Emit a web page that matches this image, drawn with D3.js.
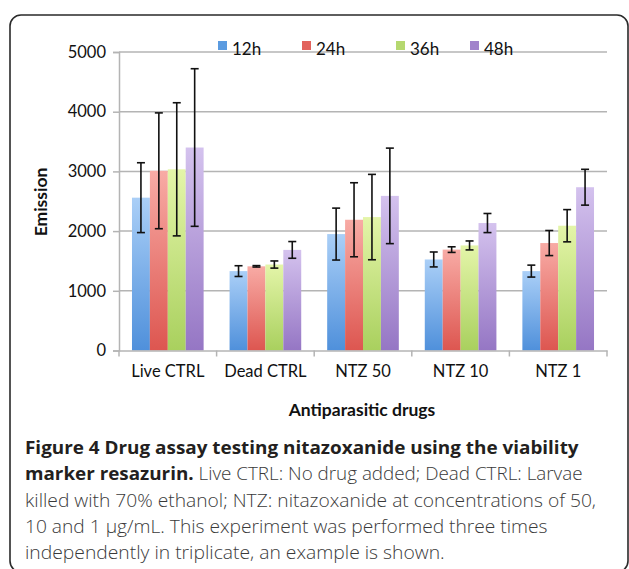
<!DOCTYPE html>
<html><head><meta charset="utf-8">
<script src="https://cdn.jsdelivr.net/npm/d3@7"></script>
<style>
html,body{margin:0;padding:0;background:#fff;}
svg{display:block;}
</style></head>
<body>
<svg id="chart" width="629" height="569"></svg>
<script>
const categories = ["Live CTRL", "Dead CTRL", "NTZ 50", "NTZ 10", "NTZ 1"];
const seriesNames = ["12h", "24h", "36h", "48h"];
const values12 = [2560, 1330, 1950, 1525, 1330];
const values24 = [3010, 1410, 2190, 1690, 1800];
const values36 = [3035, 1440, 2235, 1760, 2090];
const values48 = [3400, 1685, 2590, 2135, 2735];
const err12 = [585, 90, 435, 125, 100];
const err24 = [970, 12, 620, 47, 210];
const err36 = [1115, 60, 715, 75, 270];
const err48 = [1320, 140, 800, 160, 300];
const yTicks = [0, 1000, 2000, 3000, 4000, 5000];

const seriesValues = [values12, values24, values36, values48];
const seriesErrors = [err12, err24, err36, err48];
const colorsTop = ["#aacff7", "#f8aba5", "#e4f5a9", "#d4c2ee"];
const colorsBottom = ["#4f90db", "#dd5650", "#a9d05e", "#9576c4"];
const legendColors = ["#5b9be0", "#e2635d", "#b5d86f", "#a183cb"];

const svg = d3.select("#chart");
const chartFont = "Lato, 'Open Sans', sans-serif";
const capFont = "'Open Sans', 'Noto Sans', sans-serif";

// frame
svg.append("rect").attr("x", 10).attr("y", 15).attr("width", 618).attr("height", 557)
  .attr("rx", 11).attr("fill", "none").attr("stroke", "#2a2a2a").attr("stroke-width", 1.6);

const x = d3.scaleBand().domain(categories).range([119, 607]).padding(0);
const bw = x.bandwidth();
const x1 = d3.scaleBand().domain(seriesNames).range([bw * 0.133, bw * 0.867]).padding(0);
const y = d3.scaleLinear().domain([0, 5000]).range([350.5, 52]);

// gradients
const defs = svg.append("defs");
seriesNames.forEach((s, i) => {
  const g = defs.append("linearGradient").attr("id", "grad" + i)
    .attr("x1", 0).attr("y1", 0).attr("x2", 0).attr("y2", 1);
  g.append("stop").attr("offset", "0%").attr("stop-color", colorsTop[i]);
  g.append("stop").attr("offset", "100%").attr("stop-color", colorsBottom[i]);
});

// gridlines
svg.append("g").selectAll("line").data(yTicks.filter(d => d > 0)).join("line")
  .attr("x1", 119).attr("x2", 607).attr("y1", d => y(d)).attr("y2", d => y(d))
  .attr("stroke", "#b4b4b4").attr("stroke-width", 1.5);

// y axis
const yAxis = svg.append("g").attr("transform", "translate(119,0)")
  .call(d3.axisLeft(y).tickValues(yTicks).tickSize(6).tickPadding(7).tickFormat(d3.format("d")));
yAxis.select(".domain").attr("stroke", "#b4b4b4").attr("stroke-width", 1.5);
yAxis.selectAll(".tick line").attr("stroke", "#b4b4b4").attr("stroke-width", 1.5);
yAxis.selectAll("text").attr("font-family", chartFont).attr("font-size", 16.5).attr("fill", "#111");

// bars
const groups = svg.append("g").selectAll("g").data(categories).join("g")
  .attr("transform", d => `translate(${x(d)},0)`);
seriesNames.forEach((s, i) => {
  groups.append("rect")
    .attr("x", x1(s)).attr("width", x1.bandwidth())
    .attr("y", (d, j) => y(seriesValues[i][j]))
    .attr("height", (d, j) => y(0) - y(seriesValues[i][j]))
    .attr("fill", `url(#grad${i})`);
});

// x axis
const xAxis = svg.append("g").attr("transform", `translate(0,${y(0)})`)
  .call(d3.axisBottom(x).tickSize(0).tickPadding(15));
xAxis.select(".domain").attr("stroke", "#b4b4b4").attr("stroke-width", 1.5);
xAxis.selectAll("text").attr("font-family", chartFont).attr("font-size", 16.5).attr("fill", "#111");
svg.append("g").selectAll("line").data(categories.concat(["end"])).join("line")
  .attr("x1", (d, i) => i < categories.length ? x(d) : x(categories[categories.length - 1]) + bw)
  .attr("x2", (d, i) => i < categories.length ? x(d) : x(categories[categories.length - 1]) + bw)
  .attr("y1", y(0)).attr("y2", y(0) + 6)
  .attr("stroke", "#b4b4b4").attr("stroke-width", 1.5);

// error bars
seriesNames.forEach((s, i) => {
  categories.forEach((c, j) => {
    const cx = x(c) + x1(s) + x1.bandwidth() / 2;
    const v = seriesValues[i][j], e = seriesErrors[i][j];
    const g = svg.append("g").attr("stroke", "#111").attr("stroke-width", 1.6);
    g.append("line").attr("x1", cx).attr("x2", cx).attr("y1", y(v + e)).attr("y2", y(v - e));
    g.append("line").attr("x1", cx - 4).attr("x2", cx + 4).attr("y1", y(v + e)).attr("y2", y(v + e));
    g.append("line").attr("x1", cx - 4).attr("x2", cx + 4).attr("y1", y(v - e)).attr("y2", y(v - e));
  });
});

// legend
const legendX = [218, 302, 396, 470];
seriesNames.forEach((s, i) => {
  svg.append("rect").attr("x", legendX[i]).attr("y", 41).attr("width", 9).attr("height", 9)
    .attr("fill", legendColors[i]);
  svg.append("text").attr("x", legendX[i] + 14).attr("y", 55).text(s)
    .attr("font-family", chartFont).attr("font-size", 17).attr("fill", "#111");
});

// axis titles
svg.append("text").attr("transform", "translate(47,202) rotate(-90)").attr("text-anchor", "middle")
  .attr("font-family", chartFont).attr("font-weight", "bold").attr("font-size", 17.5).attr("fill", "#111")
  .text("Emission");
svg.append("text").attr("x", 362).attr("y", 416).attr("text-anchor", "middle")
  .attr("font-family", chartFont).attr("font-weight", "bold").attr("font-size", 17.5).attr("fill", "#111")
  .text("Antiparasitic drugs");

// caption
const capLines = [
  [["Figure 4 Drug assay testing nitazoxanide using the viability", "bold"]],
  [["marker resazurin.", "bold"], [" Live CTRL: No drug added; Dead CTRL: Larvae", "normal"]],
  [["killed with 70% ethanol; NTZ: nitazoxanide at concentrations of 50,", "normal"]],
  [["10 and 1 \u00b5g/mL. This experiment was performed three times", "normal"]],
  [["independently in triplicate, an example is shown.", "normal"]]
];
const capBase = [453.5, 480, 506.5, 533, 559];
const capEnd = [579, 583, 596, 548, 445];
capLines.forEach((parts, k) => {
  const g = svg.append("g");
  const t = g.append("text").attr("x", 0).attr("y", 0)
    .attr("font-family", capFont).attr("font-size", 18.5).attr("fill", "#231f20");
  parts.forEach(p => {
    t.append("tspan").text(p[0]).attr("font-weight", p[1] === "bold" ? 700 : 300)
      .attr("fill", p[1] === "bold" ? "#231f20" : "#3a3a3a");
  });
  const w = t.node().getComputedTextLength();
  const sx = (capEnd[k] - 25) / w;
  g.attr("transform", `translate(25,${capBase[k]}) scale(${sx},1)`);
});
</script>
</body></html>
